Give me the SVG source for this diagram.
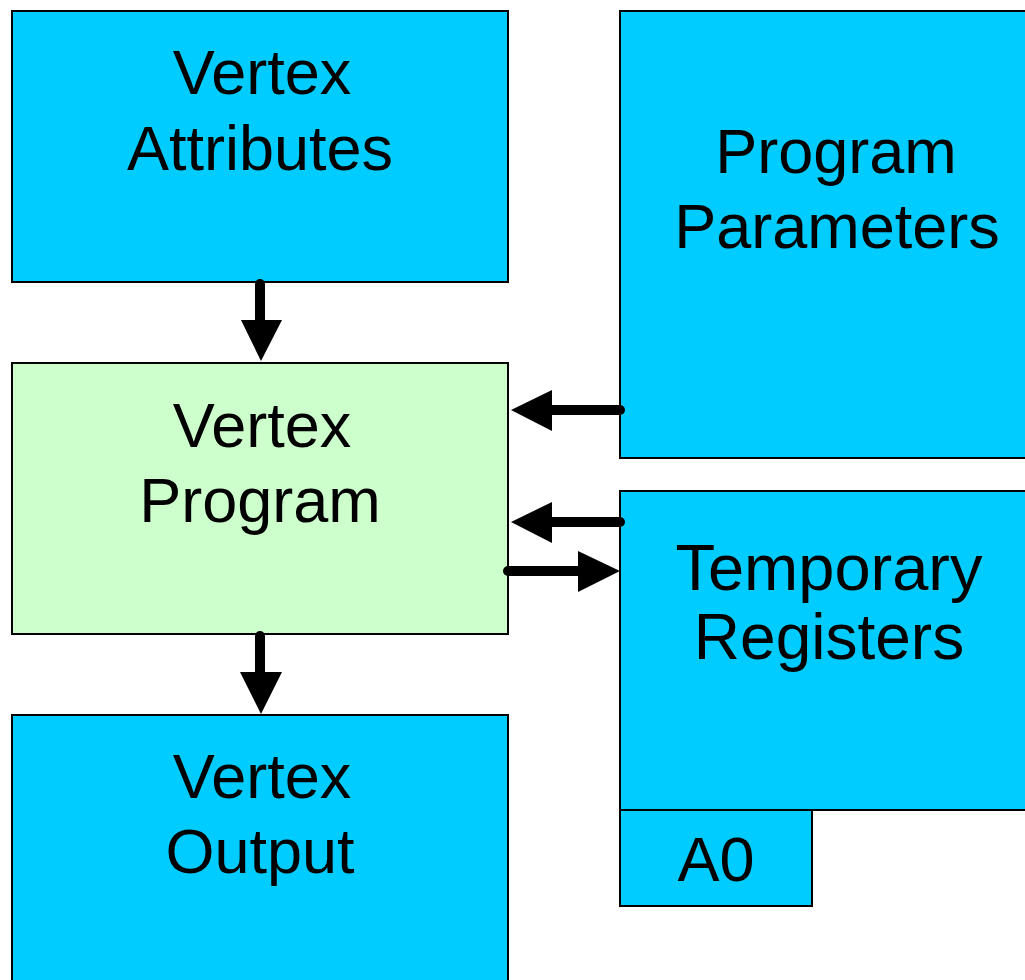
<svg xmlns="http://www.w3.org/2000/svg" width="1025" height="980" viewBox="0 0 1025 980">
<style>
.box{stroke:#000;stroke-width:2}
.blue{fill:#00CCFF}
.green{fill:#CCFFCC}
.t{font-family:"Liberation Sans",Arial,sans-serif;font-size:63px;fill:#000;text-anchor:middle}
.shaft{stroke:#000;stroke-width:10;stroke-linecap:round;fill:none}
.head{fill:#000}
</style>
<rect width="1025" height="980" fill="#fff"/>
<g id="vertex-attributes">
<rect class="box blue" x="12" y="11" width="496" height="271"/>
<text class="t" x="262" y="94">Vertex</text>
<text class="t" x="260" y="170">Attributes</text>
</g>
<g id="vertex-program">
<rect class="box green" x="12" y="363" width="496" height="271"/>
<text class="t" x="262" y="447">Vertex</text>
<text class="t" x="260" y="522">Program</text>
</g>
<g id="vertex-output">
<rect class="box blue" x="12" y="715" width="496" height="280"/>
<text class="t" x="262" y="798">Vertex</text>
<text class="t" x="260" y="873">Output</text>
</g>
<g id="program-parameters">
<rect class="box blue" x="620" y="11" width="420" height="447"/>
<text class="t" x="836" y="173">Program</text>
<text class="t" x="837" y="248">Parameters</text>
</g>
<g id="temporary-registers">
<rect class="box blue" x="620" y="491" width="420" height="319"/>
<text class="t" x="829" y="590" style="font-size:65px">Temporary</text>
<text class="t" x="829" y="659" style="font-size:64px">Registers</text>
</g>
<g id="a0">
<rect class="box blue" x="620" y="810" width="192" height="96"/>
<text class="t" x="716" y="881">A0</text>
</g>
<g id="connectors">
<line class="shaft" x1="260" y1="284" x2="260" y2="325"/>
<polygon class="head" points="241,320 282,320 261,361"/>
<line class="shaft" x1="620" y1="410" x2="548" y2="410"/>
<polygon class="head" points="552,390 552,431 511,410"/>
<line class="shaft" x1="620" y1="522" x2="548" y2="522"/>
<polygon class="head" points="552,502 552,543 511,522"/>
<line class="shaft" x1="508" y1="571" x2="582" y2="571"/>
<polygon class="head" points="578,551 578,592 620,571"/>
<line class="shaft" x1="260" y1="636" x2="260" y2="676"/>
<polygon class="head" points="240,672 282,672 261,714"/>
</g>
</svg>
